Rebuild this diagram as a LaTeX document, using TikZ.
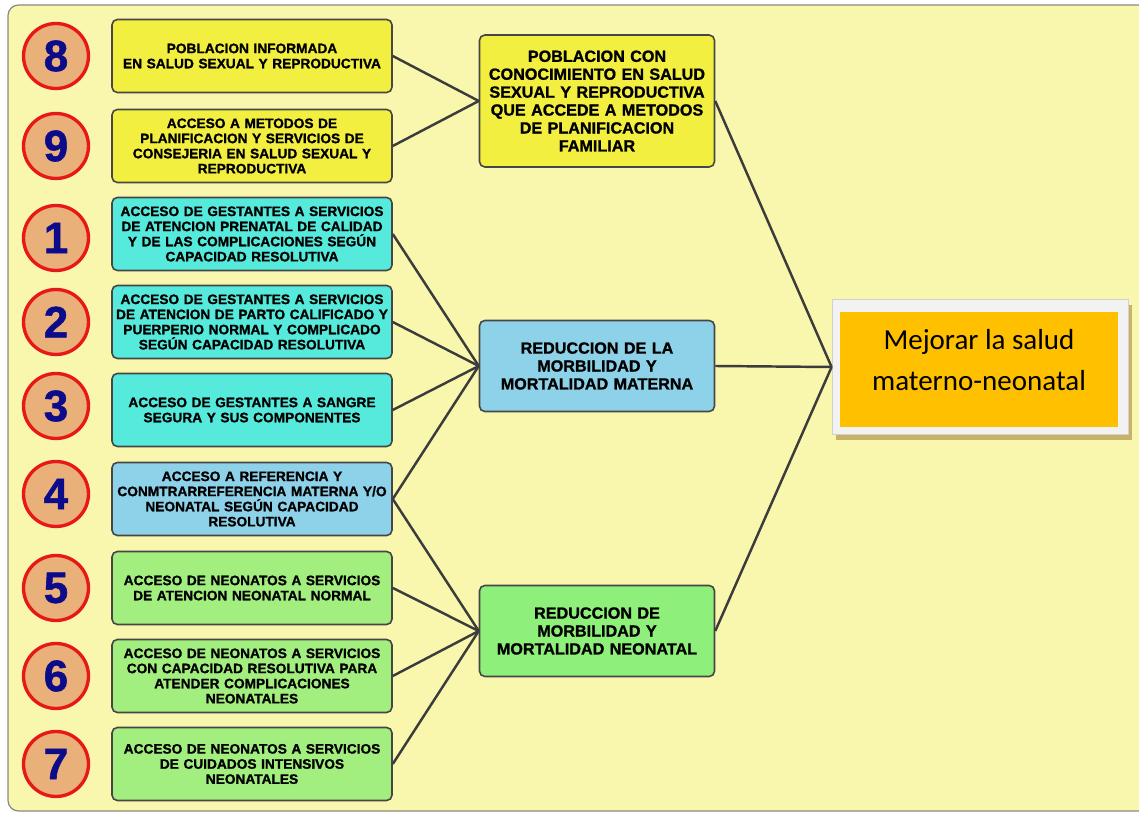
\documentclass[tikz,border=0pt]{standalone}
\usepackage{fontspec}
\setmainfont{Liberation Sans}
\newfontfamily\calibfont{Carlito}
\newfontfamily\heavyfont{Liberation Sans Bold}[FakeBold=1.2]

\definecolor{panelbg}{HTML}{F9F7AE}
\definecolor{panelline}{HTML}{8A8A80}
\definecolor{numfill}{HTML}{E9B07A}
\definecolor{numred}{HTML}{E81818}
\definecolor{numblue}{HTML}{0C0C8A}
\definecolor{boxline}{HTML}{464646}
\definecolor{linkgray}{HTML}{3C3C3C}
\definecolor{ylwbox}{HTML}{F3EF40}
\definecolor{cyanbox}{HTML}{55EADC}
\definecolor{bluebox}{HTML}{8ED2E9}
\definecolor{greenbox}{HTML}{A2EF80}
\definecolor{greenmid}{HTML}{8EEF7A}
\definecolor{goalfill}{HTML}{FFC000}
\definecolor{goalframe}{HTML}{F2F2F2}
\definecolor{goalshadow}{HTML}{C9B268}

\begin{document}
\begin{tikzpicture}[x=0.02cm,y=-0.02cm,
  numcirc/.style={circle,draw=numred,line width=1.9pt,fill=numfill,minimum size=1.3cm,inner sep=0pt,text=numblue,font=\heavyfont\fontsize{25}{25}\selectfont},
  leftbox/.style={draw=boxline,line width=0.9pt,rounded corners=3pt,minimum width=5.6cm,minimum height=1.46cm,text width=5.5cm,align=center,inner sep=0pt,font=\heavyfont\fontsize{7.8}{8.6}\selectfont},
  midbox/.style={leftbox,minimum width=4.7cm,text width=4.5cm,font=\heavyfont\fontsize{9.2}{10.2}\selectfont},
  link/.style={draw=linkgray,line width=1.4pt}]
\useasboundingbox (0,0) rectangle (1139,813);
\clip (0,0) rectangle (1139,813);
\draw[draw=panelline,fill=panelbg,line width=0.7pt,rounded corners=6pt] (8,5) rectangle (1180,811);

% numbers
\node[numcirc] (c8) at (56,56) {8};
\node[numcirc] (c9) at (56,146) {9};
\node[numcirc] (c1) at (56,238) {1};
\node[numcirc] (c2) at (56,322) {2};
\node[numcirc] (c3) at (56,406) {3};
\node[numcirc] (c4) at (56,494) {4};
\node[numcirc] (c5) at (56,588) {5};
\node[numcirc] (c6) at (56,676) {6};
\node[numcirc] (c7) at (56,764) {7};

% interventions
\node[leftbox,fill=ylwbox] (b8) at (252,56) {POBLACION INFORMADA\\EN SALUD SEXUAL Y REPRODUCTIVA};
\node[leftbox,fill=ylwbox] (b9) at (252,146) {ACCESO A METODOS DE\\PLANIFICACION Y SERVICIOS DE\\CONSEJERIA EN SALUD SEXUAL Y\\REPRODUCTIVA};
\node[leftbox,fill=cyanbox] (b1) at (252,234) {ACCESO DE GESTANTES A SERVICIOS\\DE ATENCION PRENATAL DE CALIDAD\\Y DE LAS COMPLICACIONES SEGÚN\\CAPACIDAD RESOLUTIVA};
\node[leftbox,fill=cyanbox] (b2) at (252,322) {ACCESO DE GESTANTES A SERVICIOS\\DE ATENCION DE PARTO CALIFICADO Y\\PUERPERIO NORMAL Y COMPLICADO\\SEGÚN CAPACIDAD RESOLUTIVA};
\node[leftbox,fill=cyanbox] (b3) at (252,410) {ACCESO DE GESTANTES A SANGRE\\SEGURA Y SUS COMPONENTES};
\node[leftbox,fill=bluebox] (b4) at (252,499) {ACCESO A REFERENCIA Y\\CONMTRARREFERENCIA MATERNA Y/O\\NEONATAL SEGÚN CAPACIDAD\\RESOLUTIVA};
\node[leftbox,fill=greenbox] (b5) at (252,588) {ACCESO DE NEONATOS A SERVICIOS\\DE ATENCION NEONATAL NORMAL};
\node[leftbox,fill=greenbox] (b6) at (252,676) {ACCESO DE NEONATOS A SERVICIOS\\CON CAPACIDAD RESOLUTIVA PARA\\ATENDER COMPLICACIONES\\NEONATALES};
\node[leftbox,fill=greenbox] (b7) at (252,764) {ACCESO DE NEONATOS A SERVICIOS\\DE CUIDADOS INTENSIVOS\\NEONATALES};

% results
\node[midbox,fill=ylwbox,minimum height=2.64cm] (pobl) at (597,101) {POBLACION CON\\CONOCIMIENTO EN SALUD\\SEXUAL Y REPRODUCTIVA\\QUE ACCEDE A METODOS\\DE PLANIFICACION\\FAMILIAR};
\node[midbox,fill=bluebox,minimum height=1.82cm] (mat) at (597,366) {REDUCCION DE LA\\MORBILIDAD Y\\MORTALIDAD MATERNA};
\node[midbox,fill=greenmid,minimum height=1.82cm] (neo) at (597,631) {REDUCCION DE\\MORBILIDAD Y\\MORTALIDAD NEONATAL};

% goal
\fill[goalshadow] (836,305) rectangle (1132,440);
\node[draw=white!82!black,fill=goalframe,line width=0.5pt,minimum width=5.92cm,minimum height=2.7cm,inner sep=0pt] (frame) at (980,367) {};
\fill[goalfill] (840,312) rectangle (1118,427);
\node[align=center,inner sep=0pt,font=\calibfont\fontsize{16.5}{23.8}\selectfont] (goal) at (979,360) {Mejorar la salud\\materno-neonatal};

% links
\draw[link] (b8.east) -- (pobl.west);
\draw[link] (b9.east) -- (pobl.west);
\draw[link] (b1.east) -- (mat.west);
\draw[link] (b2.east) -- (mat.west);
\draw[link] (b3.east) -- (mat.west);
\draw[link] (b4.east) -- (mat.west);
\draw[link] (b4.east) -- (neo.west);
\draw[link] (b5.east) -- (neo.west);
\draw[link] (b6.east) -- (neo.west);
\draw[link] (b7.east) -- (neo.west);
\draw[link] (pobl.east) -- (frame.west);
\draw[link] (mat.east) -- (frame.west);
\draw[link] (neo.east) -- (frame.west);
\end{tikzpicture}
\end{document}
